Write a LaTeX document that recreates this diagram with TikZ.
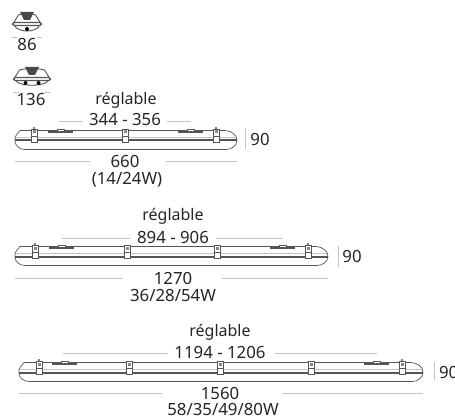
\documentclass[tikz,border=0pt]{standalone}
\usepackage{fontspec}
\setmainfont{Noto Sans}
\usepackage{tikz}
\usepackage{xcolor}
\definecolor{bodyline}{HTML}{555555}
\definecolor{dimgrey}{HTML}{C4C4C4}
\definecolor{labelgrey}{HTML}{262626}

% one lamp seen from the side: width, list of clips, two brackets, two pins
\newcommand{\lampside}[6]{
    \draw[body] (1,5.5) -- (5,0.5) -- (#1-12,0.5) .. controls (#1-5,1) and (#1,5) .. (#1,10.5)
        .. controls (#1,16) and (#1-6,19.5) .. (#1-11,19.5) -- (10,19.5) .. controls (5,19.5) and (0,16) .. (0,11) -- (0,8) -- cycle;
    \fill[bodyline] (0,9.5) rectangle (#1,11.5);
    \draw[dimgrey, line width=0.5pt] (1,7) -- (#1-1,7);
    \foreach \c in {#2} {
        \fill[white] (\c-3,-0.5) rectangle (\c+3,12.5);
        \draw[bodyline, line width=0.7pt] (\c-3,-0.5) rectangle (\c+3,12.5);
        \draw[bodyline, line width=0.7pt] (\c-3,6) -- (\c+3,6);
        \fill[bodyline!70] (\c-1.5,0.5) rectangle (\c+1.5,3.5);
    }
    \foreach \p in {#5,#6} {
        \fill[bodyline] (\p,-2) circle (1.2);
    }
    \foreach \b in {#3,#4} {
        \fill[bodyline] (\b,1) rectangle (\b+25,2.8);
        \fill[white] (\b+9,-1) rectangle (\b+16,1.4);
        \draw[body] (\b+9,-1) rectangle (\b+16,1.4);
    }
}

% one lamp seen from its end: half width, height
\newcommand{\lampend}[2]{
    \draw[body, line width=0.9pt] (-#1+1,11) -- (-#1+6,3) .. controls (-4,1) and (4,1) .. (#1-6,3) -- (#1-1,11);
    \draw[body, line width=0.9pt] (-#1+2,13) .. controls (-#1+4,#2) and (#1-4,#2) .. (#1-2,13);
    \draw[body, line width=1.3pt, rounded corners=1.5pt] (-#1,10.5) rectangle (#1,13.5);
    \fill[bodyline!85!black] (-7,0) -- (7,0) -- (3,8) -- (-3,8) -- cycle;
}

\begin{document}
\begin{tikzpicture}[x=1pt, y=-1pt,
    body/.style={draw=bodyline, line width=0.7pt},
    dimline/.style={draw=dimgrey, line width=0.5pt},
    dimtext/.style={text=labelgrey, font=\fontsize{16.8}{20}\selectfont, inner sep=0pt, outer sep=0pt, align=center},
    regtext/.style={text=labelgrey, font=\fontsize{16}{19}\selectfont, inner sep=0pt, outer sep=0pt}]

    \useasboundingbox (0,0) rectangle (455,417);

    % end views
    \begin{scope}[shift={(27,12)}]
        \lampend{14.5}{21}
        \fill[black] (0,17) circle (2);
    \end{scope}
    \begin{scope}[shift={(32,67)}]
        \lampend{18.5}{20}
        \fill[black] (-6.5,16) circle (2);
        \fill[black] (6.5,16) circle (2);
    \end{scope}

    \node[dimtext] (d86) at (27,45) {86};
    \coordinate (d86l) at (12,37);
    \coordinate (d86r) at (42,37);
    \draw[dimline] (d86l) -- (17,37);
    \draw[dimline] (37,37) -- (d86r);

    \node[dimtext] (d136) at (31,100) {136};
    \coordinate (d136l) at (13,92);
    \coordinate (d136r) at (50,92);
    \draw[dimline] (d136l) -- (19,92);
    \draw[dimline] (44,92) -- (d136r);

    % 660
    \begin{scope}[shift={(15,130)}]
        \lampside{222}{19,110,201}{33}{163}{19}{201}
    \end{scope}
    \node[regtext] (reg1) at (126,100) {réglable};
    \node[dimtext] (adj1) at (125,120) {344 - 356};
    \coordinate (adj1l) at (59,121);
    \coordinate (adj1r) at (191,121);
    \draw[dimline] (adj1l) -- (83,121);
    \draw[dimline] (167,121) -- (adj1r);
    \node[dimtext] (len1) at (125,161) {660};
    \node[dimtext] (pow1) at (127,180) {(14/24W)};
    \coordinate (len1l) at (15,161);
    \coordinate (len1r) at (237,161);
    \draw[dimline] (len1l) -- (90,161);
    \draw[dimline] (166,161) -- (len1r);
    \node[dimtext] (h1) at (260,139) {90};
    \coordinate (h1t) at (245,128);
    \coordinate (h1b) at (245,149);
    \draw[dimline] (h1t) -- (h1b);

    % 1270
    \begin{scope}[shift={(15,246)}]
        \lampside{313}{20,112,202,293}{34}{255}{20}{293}
    \end{scope}
    \node[regtext] (reg2) at (173,216) {réglable};
    \node[dimtext] (adj2) at (173,237) {894 - 906};
    \coordinate (adj2l) at (62,238);
    \coordinate (adj2r) at (283,238);
    \draw[dimline] (adj2l) -- (130,238);
    \draw[dimline] (216,238) -- (adj2r);
    \node[dimtext] (len2) at (173,278) {1270};
    \node[dimtext] (pow2) at (173,296) {36/28/54W};
    \coordinate (len2l) at (15,278);
    \coordinate (len2r) at (328,278);
    \draw[dimline] (len2l) -- (123,278);
    \draw[dimline] (222,278) -- (len2r);
    \node[dimtext] (h2) at (352,256) {90};
    \coordinate (h2t) at (338,246);
    \coordinate (h2b) at (338,267);
    \draw[dimline] (h2t) -- (h2b);

    % 1560
    \begin{scope}[shift={(19,362)}]
        \lampside{404}{20,110,201,292,383}{33}{345}{20}{383}
    \end{scope}
    \node[regtext] (reg3) at (220,332) {réglable};
    \node[dimtext] (adj3) at (220,352) {1194 - 1206};
    \coordinate (adj3l) at (63,353);
    \coordinate (adj3r) at (377,353);
    \draw[dimline] (adj3l) -- (168,353);
    \draw[dimline] (275,353) -- (adj3r);
    \node[dimtext] (len3) at (220,393) {1560};
    \node[dimtext] (pow3) at (223,409) {58/35/49/80W};
    \coordinate (len3l) at (19,393);
    \coordinate (len3r) at (423,393);
    \draw[dimline] (len3l) -- (162,393);
    \draw[dimline] (282,393) -- (len3r);
    \node[dimtext, anchor=west] (h3) at (439,372) {90};
    \coordinate (h3t) at (434,362);
    \coordinate (h3b) at (434,381);
    \draw[dimline] (h3t) -- (h3b);

\end{tikzpicture}
\end{document}
